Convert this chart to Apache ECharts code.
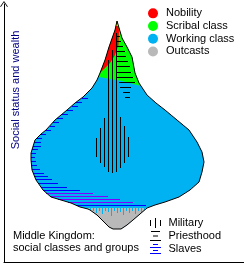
<!DOCTYPE html>
<html><head><meta charset="utf-8">
<script src="https://cdn.jsdelivr.net/npm/echarts@6/dist/echarts.min.js"></script>
<style>html,body{margin:0;padding:0;background:#fff}#c{width:244px;height:264px}</style>
</head><body><div id="c"></div>
<script>
// ---- categories ----
const classes = ['Nobility', 'Scribal class', 'Working class', 'Outcasts'];
const groups = ['Military', 'Priesthood', 'Slaves'];
const yLabel = 'Social status and wealth';
const caption = 'Middle Kingdom:\nsocial classes and groups';

// ---- shapes: [x, depth] (depth grows downward = lower status) ----
const outline = [[117,21],[122,38],[127,47],[132,57],[135,73],[139,83],[147,95],[156,103],[165,110],[177,120],[189,130],[197,142],[202,152],[204,162],[202,172],[199,182],[190,190],[179,197],[165,202],[155,205],[147,208],[140,214],[133,220],[127,225],[121,229],[113,229],[109,227],[104,222],[97,215],[90,210],[88,209],[80,207],[71,203],[61,200],[51,197],[43,190],[36,180],[32,170],[31,160],[31,153],[35,140],[41,134],[46,130],[55,120],[67,110],[75,103],[83,97],[92,88],[97,80],[100,73],[105,60],[109,47],[115,30]];
const scribal = [[117,21],[122,38],[127,47],[132,57],[135,73],[139,83],[141,86],[122,81],[99,77],[100,73],[105,60],[109,47],[115,30]];
const nobility = [[117,21],[119,30],[118.5,45],[115,55],[110,63],[105,68],[101,72],[100,73],[105,60],[109,47],[115,30]];
const pharaoh = [[117,21],[118.3,26],[115.7,26]];
const outcasts = [[86,208],[147,208],[140,214],[133,220],[127,225],[121,229],[113,229],[109,227],[104,222],[97,215],[90,210],[88,209]];

// ---- military (vertical strokes) ----
const militaryX = [96,100,104,108,112,116,120,124,128];
const militaryTop = [138,128,118,60,50,33,117,126,137];
const militaryBottom = [157,163,167,172,173,172,168,163,157];

// ---- priesthood (horizontal strokes) ----
const priestY = [36,41,46,51,56,61,66,72,77,82,87,92,97];
const priestX0 = [117,117,117,117,117,117,117,117,117,119,120,123,125];
const priestX1 = [120,121,123,125,126,128,130,131,133,135,131,130,130];

// ---- slaves (horizontal strokes) ----
const slaveY = [98,102,106,110,114,118,122,126,130,134,138,142,146,149,153,157,161,165,169,173,176,179,183,187,190,193,196,199,202,205];
const slaveX0 = [82,76,72,67,62,57,53,50,46,41,37,34,33,32,31,31,31,32,32,33,34,36,38,41,43,46,50,58,68,76];
const slaveX1 = [88,82,78,73,68,63,59,55,51,46,42,41,41,38,36,35,36,37,40,44,48,52,58,67,80,93,108,120,133,146];
const slaveKind = [0,0,0,0,0,0,0,0,0,0,0,0,0,0,0,0,0,0,0,0,0,0,0,0,0,1,1,1,1,0];

// ---- working class drips into outcasts ----
const dripX = [90,93,96,99,102,105,108,111,114,117,120,123,126,129,132,135,138,141,144];
const dripLen = [2,3,5,3,6,3,4,8,3,5,4,7,3,5,3,6,3,4,2];
const dripTop = 208;

// ---- styles ----
const COL = {red:'#ff0000', green:'#00ff00', blue:'#00b2f2', grey:'#b9b9b9', yellow:'#ffff00',
  slave:'#0000ff', slave2:'#8000ff', ink:'#000000', navy:'#000080'};
const FONT = 'Liberation Sans';

const chart = echarts.init(document.getElementById('c'), null, {renderer:'canvas'});

function poly(api, list, fill, stroke) {
  return {type:'polygon', silent:true,
    shape:{points:list.map(p => api.coord(p))},
    style:{fill:fill || 'none', stroke:stroke || null, lineWidth:1}};
}
function hline(api, x0, x1, y, color) {
  const a = api.coord([x0, y]), b = api.coord([x1, y]);
  return {type:'line', silent:true, shape:{x1:a[0], y1:a[1]+0.5, x2:b[0], y2:b[1]+0.5},
    style:{stroke:color, lineWidth:1}};
}
function vline(api, x, y0, y1, color) {
  const a = api.coord([x, y0]), b = api.coord([x, y1]);
  return {type:'line', silent:true, shape:{x1:a[0]+0.5, y1:a[1], x2:b[0]+0.5, y2:b[1]},
    style:{stroke:color, lineWidth:1}};
}
function custom(name, color, fn, z) {
  return {type:'custom', name:name, coordinateSystem:'cartesian2d', data:[[0,0]],
    itemStyle:{color:color}, z:z, silent:true, animation:false,
    renderItem:function(params, api){ return {type:'group', children:fn(api)}; }};
}

const milIcon = 'path://M0,2L1,2L1,8L0,8Z M5,0L6,0L6,10L5,10Z M10,2L11,2L11,8L10,8Z';
const priIcon = 'path://M1,0L10,0L10,1L1,1Z M3,4.5L8,4.5L8,5.5L3,5.5Z M0,9L11,9L11,10L0,10Z';
const slvIcon = 'path://M3,0L8,0L8,1L3,1Z M0,3L11,3L11,4L0,4Z M3,6L8,6L8,7L3,7Z M0,9L11,9L11,10L0,10Z';

chart.setOption({
  animation:false,
  backgroundColor:'#ffffff',
  grid:{left:4, right:0, top:4, bottom:2},
  xAxis:{type:'value', min:4, max:244, axisLine:{show:true, onZero:false, lineStyle:{color:COL.ink, width:1}},
    axisTick:{show:false}, axisLabel:{show:false}, splitLine:{show:false}},
  yAxis:{type:'value', inverse:true, min:4, max:262,
    axisLine:{show:true, onZero:false, symbol:['none','path://M4.5,0L9,6.3L8.2,7L4.5,1.6L0.8,7L0,6.3Z'], symbolSize:[9,6],
      lineStyle:{color:COL.ink, width:1}},
    axisTick:{show:false}, axisLabel:{show:false}, splitLine:{show:false}},
  title:{text:caption, left:13, top:229.5, padding:0,
    textStyle:{fontSize:11, fontWeight:'normal', fontFamily:FONT, color:COL.ink, lineHeight:12}},
  graphic:[{type:'text', x:16, y:90, rotation:Math.PI/2,
    style:{text:yLabel, fill:COL.navy, font:'11px "' + FONT + '"', align:'center', verticalAlign:'middle'}}],
  legend:[
    {data:classes, orient:'vertical', left:148, top:7, icon:'circle', itemWidth:16, itemHeight:10, itemGap:0,
      selectedMode:false, padding:0, textStyle:{fontSize:11, fontFamily:FONT, color:COL.ink, lineHeight:12.7}},
    {data:[{name:groups[0], icon:milIcon},{name:groups[1], icon:priIcon},{name:groups[2], icon:slvIcon}],
      orient:'vertical', left:150, top:216.5, itemWidth:16, itemHeight:10, itemGap:0,
      selectedMode:false, padding:0, textStyle:{fontSize:11, fontFamily:FONT, color:COL.ink, lineHeight:13}}
  ],
  series:[
    custom(classes[2], COL.blue, api => [poly(api, outline, COL.blue)], 1),
    custom(classes[1], COL.green, api => [poly(api, scribal, COL.green)], 2),
    custom(classes[0], COL.red, api => [poly(api, nobility, COL.red)], 3),
    custom(classes[3], COL.grey, api => {
      const ch = [poly(api, outcasts, COL.grey)];
      dripX.forEach((x, i) => ch.push(vline(api, x, dripTop, dripTop + dripLen[i], COL.blue)));
      return ch;
    }, 4),
    custom(groups[2], COL.slave, api => slaveY.map((y, i) =>
      hline(api, slaveX0[i], slaveX1[i], y, slaveKind[i] ? COL.slave2 : COL.slave)), 5),
    custom(groups[0], COL.ink, api => militaryX.map((x, i) =>
      vline(api, x, militaryTop[i], militaryBottom[i], COL.ink)), 6),
    custom(groups[1], COL.ink, api => priestY.map((y, i) =>
      hline(api, priestX0[i], priestX1[i], y, COL.ink)), 7),
    custom('', COL.ink, api => [poly(api, pharaoh, COL.yellow), poly(api, outline, null, COL.ink)], 8)
  ]
});
</script></body></html>
